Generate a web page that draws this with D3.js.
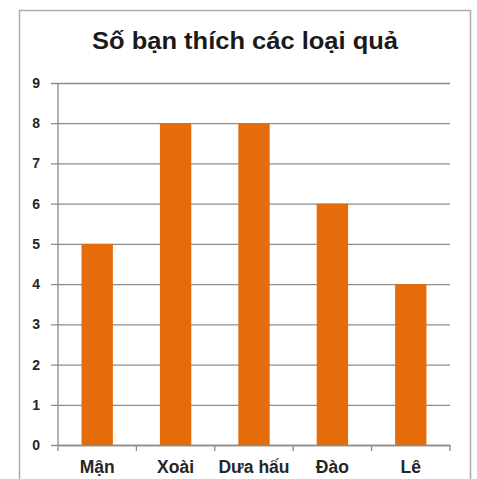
<!DOCTYPE html>
<html><head><meta charset="utf-8">
<script src="https://cdn.jsdelivr.net/npm/d3@7"></script>
<style>html,body{margin:0;padding:0;background:#fff;}svg{display:block;}</style>
</head><body>
<script>
const title = "Số bạn thích các loại quả";
const categories = ["Mận", "Xoài", "Dưa hấu", "Đào", "Lê"];
const values = [5, 8, 8, 6, 4];
const yTicks = [0, 1, 2, 3, 4, 5, 6, 7, 8, 9];

const W = 477, H = 479;
const svg = d3.select("body").append("svg").attr("width", W).attr("height", H);
svg.append("rect").attr("width", W).attr("height", H).attr("fill", "#fff");

// chart border
svg.append("rect").attr("x", 19.5).attr("y", 10.5).attr("width", 451).attr("height", 500)
  .attr("fill", "none").attr("stroke", "#ababab").attr("stroke-width", 1.5);

const x = d3.scaleBand().domain(categories).range([58, 450]).paddingInner(0.6).paddingOuter(0.3);
const xb = d3.scaleBand().domain(categories).range([58, 450]).padding(0);
const y = d3.scaleLinear().domain([0, 9]).range([445, 83]);

// gridlines
const yAxis = d3.axisLeft(y).tickValues(yTicks).tickSize(-(450 - 51)).tickPadding(11).tickFormat(d3.format("d"));
const gy = svg.append("g").attr("transform", "translate(51,0)").call(yAxis);
gy.select(".domain").remove();
gy.selectAll(".tick line").attr("stroke", "#8c8c8c").attr("stroke-width", 1.3);
gy.selectAll(".tick text").attr("font-family", "Liberation Sans, Arial, sans-serif")
  .attr("font-size", 14).attr("font-weight", "bold").attr("fill", "#262626");

// bars
svg.append("g").selectAll("rect").data(values).join("rect")
  .attr("x", (d, i) => x(categories[i]))
  .attr("width", x.bandwidth())
  .attr("y", d => y(d))
  .attr("height", d => y(0) - y(d))
  .attr("fill", "#E46C0A");

// y axis line
svg.append("line").attr("x1", 58).attr("x2", 58).attr("y1", y(9)).attr("y2", y(0))
  .attr("stroke", "#8c8c8c").attr("stroke-width", 1.3);

// x axis
const xAxis = d3.axisBottom(xb).tickSize(0).tickPadding(16);
const gx = svg.append("g").attr("transform", `translate(0,${y(0)})`).call(xAxis);
gx.select(".domain").attr("stroke", "#8c8c8c").attr("stroke-width", 1.3);
gx.selectAll(".tick text").attr("font-family", "Liberation Sans, Arial, sans-serif")
  .attr("font-size", 17.5).attr("font-weight", "bold").attr("fill", "#262626");
// category boundary ticks
const bounds = categories.map(c => xb(c)).concat([450]);
gx.selectAll(".btick").data(bounds).join("line").attr("class", "btick")
  .attr("x1", d => d).attr("x2", d => d).attr("y1", 0).attr("y2", 6)
  .attr("stroke", "#8c8c8c").attr("stroke-width", 1.3);

// title
svg.append("text").attr("x", 245).attr("y", 49).attr("text-anchor", "middle")
  .attr("font-family", "Liberation Sans, Arial, sans-serif").attr("font-size", 24)
  .attr("textLength", 306).attr("lengthAdjust", "spacingAndGlyphs")
  .attr("font-weight", "bold").attr("fill", "#1a1a1a").text(title);
</script>
</body></html>
